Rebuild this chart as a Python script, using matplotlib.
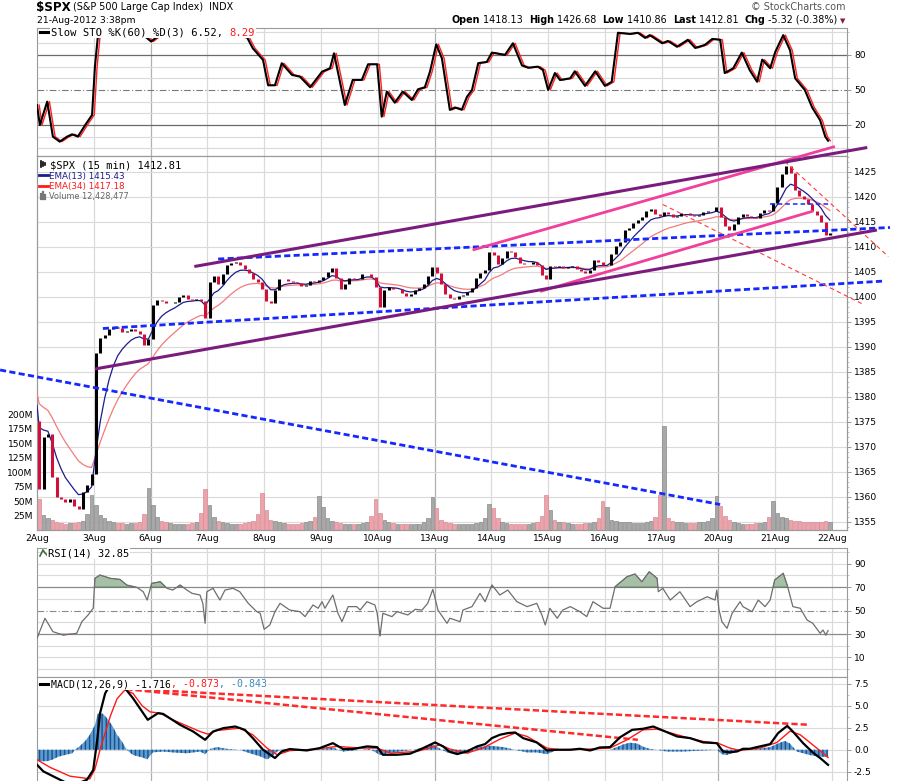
import numpy as np
import matplotlib
matplotlib.use("Agg")
import matplotlib.pyplot as plt
from matplotlib.lines import Line2D
from matplotlib.ticker import MultipleLocator

# ---------------- data ----------------
dates = ["2Aug", "3Aug", "6Aug", "7Aug", "8Aug", "9Aug", "10Aug", "13Aug",
         "14Aug", "15Aug", "16Aug", "17Aug", "20Aug", "21Aug", "22Aug"]
mondays = [2, 7, 12]

first_open = 1375.1
# 30-minute closes, 13 per trading day
closes = [
    [1361.5, 1372.0, 1372.5, 1364.0, 1360.0, 1359.6, 1359.0, 1359.5, 1358.2, 1357.6, 1361.0, 1362.4, 1364.6],
    [1388.8, 1391.8, 1392.4, 1393.6, 1394.0, 1393.8, 1393.0, 1393.2, 1393.6, 1393.2, 1392.6, 1390.4, 1391.6],
    [1398.4, 1399.4, 1399.2, 1398.8, 1398.8, 1399.0, 1400.0, 1400.4, 1399.6, 1399.4, 1399.6, 1399.2, 1395.8],
    [1403.0, 1404.2, 1402.6, 1404.6, 1406.4, 1406.8, 1406.9, 1406.4, 1405.5, 1404.8, 1403.6, 1403.0, 1401.6],
    [1399.2, 1398.8, 1401.4, 1403.6, 1403.6, 1403.2, 1403.0, 1402.8, 1402.2, 1402.4, 1403.2, 1403.0, 1403.4],
    [1404.0, 1405.0, 1405.8, 1403.8, 1401.6, 1402.6, 1403.8, 1403.6, 1403.6, 1404.6, 1404.6, 1404.0, 1402.0],
    [1398.0, 1401.4, 1402.0, 1401.6, 1401.6, 1400.8, 1400.2, 1400.6, 1401.4, 1401.8, 1402.6, 1404.2, 1406.0],
    [1404.8, 1402.6, 1400.6, 1399.8, 1399.6, 1400.2, 1400.4, 1401.0, 1401.8, 1403.8, 1404.8, 1405.4, 1409.0],
    [1408.4, 1406.6, 1407.8, 1409.2, 1409.0, 1408.0, 1406.8, 1406.6, 1406.6, 1407.0, 1406.4, 1404.4, 1403.6],
    [1406.2, 1406.0, 1406.2, 1405.8, 1406.0, 1406.2, 1405.6, 1405.2, 1404.8, 1405.4, 1407.4, 1407.0, 1406.4],
    [1406.4, 1408.6, 1410.2, 1411.0, 1413.4, 1413.8, 1414.8, 1415.4, 1416.0, 1417.2, 1417.6, 1416.6, 1416.2],
    [1417.0, 1416.6, 1416.0, 1416.2, 1416.8, 1416.8, 1416.4, 1416.2, 1416.4, 1417.0, 1417.2, 1417.2, 1418.0],
    [1416.0, 1414.2, 1413.4, 1414.6, 1416.0, 1416.6, 1416.2, 1416.0, 1415.8, 1416.8, 1417.4, 1417.2, 1418.8],
    [1422.0, 1424.6, 1426.2, 1424.8, 1421.4, 1420.2, 1419.6, 1418.6, 1417.2, 1416.4, 1415.0, 1412.4, 1412.8],
]
# volume (millions), 13 per trading day
volumes = [
    [54, 26, 20, 17, 14, 12, 11, 12, 12, 13, 16, 28, 60],
    [43, 26, 20, 16, 14, 12, 12, 11, 12, 12, 14, 28, 73],
    [43, 22, 16, 14, 12, 11, 11, 11, 11, 12, 14, 30, 71],
    [43, 22, 16, 14, 12, 11, 11, 11, 12, 13, 15, 28, 64],
    [35, 18, 15, 13, 12, 11, 11, 11, 12, 13, 16, 22, 59],
    [40, 20, 15, 13, 12, 11, 11, 11, 11, 12, 14, 24, 54],
    [30, 18, 14, 12, 11, 10, 10, 10, 10, 11, 13, 20, 57],
    [38, 18, 14, 12, 11, 10, 10, 10, 11, 12, 13, 20, 45],
    [38, 20, 14, 12, 11, 10, 10, 10, 11, 12, 14, 25, 61],
    [35, 18, 14, 13, 12, 11, 11, 11, 12, 12, 14, 20, 50],
    [40, 18, 15, 14, 14, 13, 12, 12, 12, 13, 15, 22, 61],
    [180, 20, 16, 14, 13, 12, 12, 12, 13, 13, 15, 20, 59],
    [42, 24, 18, 14, 12, 11, 11, 11, 12, 12, 14, 22, 50],
    [30, 22, 20, 18, 16, 15, 14, 14, 13, 13, 14, 16, 13],
]
ema13_seed, ema34_seed = 1378.4, 1380.8

# Slow stochastic %K (time in trading days from 2 Aug open)
sto_t = [0.00, 0.05, 0.18, 0.28, 0.40, 0.53, 0.62, 0.72, 0.85, 0.97, 1.02, 1.07, 1.29, 1.64, 1.90,
         2.01, 2.10, 2.43, 2.87, 3.22, 3.57, 3.70, 3.80, 3.98, 4.07, 4.19, 4.31, 4.49, 4.63, 4.81,
         5.02, 5.16, 5.23, 5.42, 5.56, 5.72, 5.83, 5.99, 6.07, 6.16, 6.30, 6.44, 6.60, 6.71, 6.83,
         6.92, 7.03, 7.13, 7.27, 7.36, 7.48, 7.57, 7.66, 7.77, 7.92, 8.01, 8.24, 8.38, 8.54, 8.65,
         8.82, 8.91, 9.00, 9.12, 9.21, 9.39, 9.47, 9.65, 9.83, 10.00, 10.12, 10.23, 10.44, 10.58,
         10.71, 10.79, 11.01, 11.11, 11.27, 11.46, 11.59, 11.76, 11.89, 12.03, 12.11, 12.26, 12.41,
         12.55, 12.68, 12.77, 12.91, 13.00, 13.14, 13.26, 13.35, 13.52, 13.65, 13.79, 13.88, 13.93]
sto_k = [37, 20, 40, 10, 5.7, 10, 12, 10, 20, 28.6, 70, 95, 97, 98, 96,
         91.5, 95, 98, 97, 97, 96, 95, 85.7, 75.7, 54, 54, 72.9, 62.9, 61.4, 52.3,
         65.7, 68.6, 81.4, 37.1, 58.6, 58.6, 72, 72, 27.1, 48.6, 39.1, 48.6, 41.4, 50.6, 52.3,
         65.7, 89.1, 77.1, 32.9, 35, 33, 44, 50, 73, 74, 82, 80, 90, 71, 69,
         70, 67, 50, 64.5, 58.5, 60, 66, 53.5, 66, 53.5, 57, 99, 98, 99,
         94.6, 97, 90, 92, 87, 93, 86, 88.6, 93.7, 93, 64.5, 68.6, 82,
         67, 57, 76, 68.6, 82.6, 97, 84, 60, 50, 35, 24, 10, 6.5]
sto_d_lag = 1 / 26  # %D trails %K by about one 15-minute bar

rsi_t = [0.00, 0.14, 0.28, 0.46, 0.70, 0.79, 0.90, 0.99, 1.02, 1.11, 1.29, 1.46, 1.58, 1.76, 1.87,
         1.94, 2.02, 2.17, 2.29, 2.39, 2.52, 2.64, 2.73, 2.87, 2.92, 2.96, 2.99, 3.10, 3.22, 3.31,
         3.45, 3.57, 3.72, 3.87, 3.93, 4.00, 4.10, 4.19, 4.28, 4.45, 4.63, 4.72, 4.86, 4.95, 5.02,
         5.07, 5.21, 5.30, 5.37, 5.48, 5.63, 5.69, 5.81, 5.95, 5.99, 6.04, 6.09, 6.25, 6.34, 6.53,
         6.66, 6.78, 6.88, 6.97, 7.06, 7.22, 7.27, 7.45, 7.50, 7.66, 7.80, 7.89, 8.01, 8.15, 8.29,
         8.45, 8.63, 8.80, 8.89, 8.95, 9.03, 9.16, 9.26, 9.39, 9.56, 9.68, 9.79, 9.97, 10.09, 10.18,
         10.39, 10.53, 10.65, 10.78, 10.92, 10.94, 11.02, 11.15, 11.32, 11.50, 11.62, 11.80, 11.94,
         11.97, 12.01, 12.06, 12.15, 12.24, 12.38, 12.43, 12.59, 12.70, 12.82, 12.91, 12.99, 13.14,
         13.21, 13.31, 13.44, 13.56, 13.66, 13.79, 13.84, 13.89, 13.93]
rsi_v = [26.3, 43.4, 32, 29.1, 30.6, 40.5, 46.2, 51.9, 77.4, 80.2, 77.4, 76.5, 71.7, 69.7, 66,
         58.9, 73.1, 74.5, 68.9, 67.4, 71.7, 67.4, 64.6, 63.2, 56.1, 39.1, 66, 68.9, 58.9, 67.4,
         68.9, 66, 56.1, 49, 47.6, 34, 37.7, 49, 56.1, 50.4, 49, 44.8, 54.7, 51.9, 57.5,
         51.9, 63.2, 47.6, 40.5, 53.3, 53.3, 50.4, 57.5, 54.7, 47.6, 28.3, 47.6, 44.8, 49, 46.2,
         51, 50.4, 56.1, 68, 50.4, 39.1, 43.4, 40.5, 50.4, 53.3, 64.6, 57.5, 71.7, 63.2, 67.4,
         57.5, 53.3, 56.1, 46.2, 37.7, 51.9, 43.4, 50.4, 53.3, 49, 44.8, 57.5, 51.9, 51.9, 70.3,
         78.8, 81.1, 74.5, 83, 77.4, 66, 68.9, 58.9, 66, 53.3, 57.5, 61.7, 58.9,
         67.4, 50.4, 40.5, 34.8, 47.6, 57.5, 53.3, 49, 58.9, 53.3, 58.9, 76, 81.7,
         71.7, 53.3, 51.9, 41.9, 39.1, 30.6, 33.4, 29.1, 32.85]

macd_t = [0.00, 0.11, 0.28, 0.53, 0.70, 0.88, 0.99, 1.06, 1.11, 1.20, 1.29, 1.41, 1.55, 1.69, 1.95,
          2.13, 2.22, 2.52, 2.75, 2.96, 3.10, 3.28, 3.49, 3.66, 3.80, 3.98, 4.19, 4.31, 4.45, 4.75,
          4.98, 5.21, 5.39, 5.56, 5.81, 5.99, 6.09, 6.34, 6.57, 6.80, 7.01, 7.15, 7.27, 7.40, 7.57,
          7.75, 7.89, 8.01, 8.15, 8.29, 8.42, 8.56, 8.80, 8.98, 9.16, 9.39, 9.56, 9.74, 9.91, 10.09,
          10.27, 10.48, 10.67, 10.85, 11.02, 11.27, 11.50, 11.73, 11.97, 12.08, 12.20, 12.33, 12.43,
          12.55, 12.73, 12.91, 13.05, 13.21, 13.31, 13.49, 13.66, 13.79, 13.93]
macd_v = [-1.7, -2.45, -3.0, -3.8, -3.9, -3.4, -2.3, 1.1, 4.15, 6.4, 7.4, 7.7, 6.98, 5.85, 3.4,
          4.15, 4.07, 2.83, 2.07, 1.13, 2.07, 2.45, 2.64, 2.26, 1.32, 0.0, -0.94, -0.19, 0.08, -0.08,
          0.19, 0.75, 0.08, 0.08, 0.38, 0.3, -0.57, -0.57, -0.45, 0.19, 0.83, 0.38, -0.25, -0.49, -0.19,
          0.38, 0.64, 1.32, 1.7, 1.89, 1.96, 1.32, 0.83, -0.08, 0.0, 0.0, 0.11, -0.08, 0.26, 0.3,
          1.43, 2.26, 2.38, 2.64, 2.19, 1.51, 1.32, 0.83, 0.75, -0.19, -0.3, -0.19, 0.11,
          0.11, 0.38, 0.64, 1.89, 2.71, 2.07, 0.75, -0.3, -0.94, -1.716]
signal_t = [0.00, 0.23, 0.58, 0.93, 1.02, 1.11, 1.29, 1.41, 1.55, 1.69, 1.85, 1.99, 2.17, 2.39,
            2.87, 3.01, 3.17, 3.57, 3.80, 4.05, 4.23, 4.45, 4.93, 5.28, 5.69, 5.99, 6.22, 6.69,
            7.10, 7.27, 7.57, 7.85, 8.15, 8.42, 8.63, 8.98, 9.21, 9.74, 10.09, 10.39, 10.67, 10.92,
            11.38, 11.73, 11.99, 12.20, 12.38, 12.73, 13.03, 13.26, 13.44, 13.66, 13.93]
signal_v = [-1.13, -2.0, -3.0, -3.3, -2.2, 0.0, 3.8, 5.8, 6.8, 6.4, 5.0, 4.3, 4.15, 3.4,
            2.07, 1.77, 2.19, 2.45, 1.7, 0.19, -0.57, -0.1, 0.08, 0.38, 0.19, 0.19, -0.38, -0.19,
            0.56, 0.08, -0.38, 0.19, 1.2, 1.89, 1.51, 0.19, 0.0, 0.08, 0.19, 1.13, 2.26, 2.34,
            1.51, 0.94, 0.75, 0.19, -0.08, 0.19, 0.83, 2.11, 1.7, 0.56, -0.873]
hist_t = [0.00, 0.18, 0.28, 0.37, 0.49, 0.62, 0.67, 0.76, 0.85, 0.93, 1.02, 1.07, 1.16, 1.23, 1.32,
          1.41, 1.50, 1.58, 1.69, 1.87, 1.94, 2.04, 2.22, 2.39, 2.64, 2.87, 2.96, 3.05, 3.17, 3.35,
          3.57, 3.75, 3.93, 4.05, 4.14, 4.23, 4.33, 4.63, 4.98, 5.21, 5.39, 5.69, 5.86, 6.04, 6.16,
          6.39, 6.62, 6.87, 6.97, 7.10, 7.22, 7.45, 7.61, 7.75, 7.98, 8.21, 8.45, 8.63, 8.80, 8.98,
          9.16, 9.61, 10.09, 10.21, 10.32, 10.44, 10.57, 10.67, 10.79, 10.92, 11.09, 11.38, 11.67,
          11.97, 12.06, 12.15, 12.26, 12.43, 12.68, 12.91, 13.08, 13.17, 13.26, 13.38, 13.49, 13.61,
          13.73, 13.84, 13.93]
hist_v = [-1.3, -1.3, -1.1, -0.8, -0.6, -0.4, 0.0, 0.45, 1.0, 1.7, 2.8, 4.1, 4.1, 3.6, 2.8,
          1.7, 0.9, 0.0, -0.6, -0.9, -1.1, -0.3, -0.2, -0.3, -0.4, -0.2, -0.5, 0.1, 0.3, 0.1,
          0.0, -0.4, -0.75, -1.1, -0.75, -0.2, 0.1, 0.0, 0.05, 0.25, -0.2, 0.0, 0.1, -0.6, -0.4,
          -0.2, 0.0, 0.3, 0.6, 0.1, -0.3, -0.4, -0.4, 0.3, 0.45, 0.3, -0.05, -0.3, -0.3, -0.5,
          0.0, 0.0, 0.0, 0.3, 0.6, 0.8, 0.7, 0.35, 0.1, 0.0, -0.2, -0.2, -0.1,
          0.0, -0.5, -0.6, -0.3, 0.05, 0.1, 0.3, 0.8, 1.0, 0.7, -0.2, -0.4, -0.6,
          -0.75, -0.8, -0.843]

# hand-drawn trend lines: ((day, price), (day, price))
purple_lines = [((2.77, 1406.1), (14.62, 1429.9)), ((1.02, 1385.6), (14.79, 1413.4))]
pink_lines = [((7.67, 1409.4), (14.05, 1430.1)), ((8.86, 1401.1), (13.67, 1417.2))]
blue_lines = [((3.19, 1407.6), (15.02, 1413.9)), ((1.16, 1393.7), (14.93, 1403.2)),
              ((-0.65, 1385.4), (12.03, 1358.5))]
blue_short = [((12.91, 1418.6), (13.99, 1418.6))]
red_thin = [((13.17, 1427.1), (14.99, 1408.1)), ((11.02, 1418.5), (14.52, 1398.7))]
macd_red_lines = [((1.41, 6.98), (13.61, 2.83)), ((1.41, 6.98), (10.58, 1.13))]

# ---------------- figure ----------------
W, H = 903, 781
fig = plt.figure(figsize=(W / 100, H / 100), dpi=100)
fig.patch.set_facecolor("white")
FONT = "DejaVu Sans"
MONO = "DejaVu Sans Mono"
plt.rcParams["font.family"] = FONT

L, R = 37, 847
XLIM = (0, (R - L) / 56.79)


def rect(top, bottom):
    return [L / W, 1 - bottom / H, (R - L) / W, (bottom - top) / H]


ax_sto = fig.add_axes(rect(28, 156))
ax_vol = fig.add_axes(rect(156, 530))
ax_px = fig.add_axes(rect(156, 530))
ax_rsi = fig.add_axes(rect(548, 677))
ax_macd = fig.add_axes(rect(677, 790))
ax_px.patch.set_visible(False)

GRID_L = "#dadada"
GRID_D = "#b0b0b0"
SPINE = "#9a9a9a"
TICK_FS = 6.6

for ax in (ax_sto, ax_vol, ax_px, ax_rsi, ax_macd):
    ax.set_xlim(*XLIM)
    for s in ax.spines.values():
        s.set_color(SPINE)
        s.set_linewidth(0.8)
    ax.tick_params(axis="x", length=0, labelbottom=False)

# vertical day grid
for ax in (ax_sto, ax_vol, ax_rsi, ax_macd):
    for d in range(1, len(dates)):
        ax.axvline(d, color=GRID_D if d in mondays else GRID_L, lw=0.9, zorder=0)


def right_axis(ax, ticks, labels, minor):
    ax.yaxis.tick_right()
    ax.set_yticks(ticks)
    ax.set_yticklabels(labels)
    ax.yaxis.set_minor_locator(MultipleLocator(minor))
    ax.tick_params(axis="y", which="major", direction="out", length=3, width=0.6,
                   color="#888888", labelsize=TICK_FS, pad=2)
    ax.tick_params(axis="y", which="minor", direction="out", length=1.5, width=0.5,
                   color="#aaaaaa")


# ---------------- STO panel ----------------
ax_sto.set_ylim(-6.6, 103.1)
for v in range(0, 101, 10):
    if v in (20, 80):
        ax_sto.axhline(v, color="#6a6a6a", lw=0.9, zorder=1)
    elif v == 50:
        ax_sto.axhline(v, color="#7a7a7a", lw=0.8, ls=(0, (6, 2, 1, 2)), zorder=1)
    else:
        ax_sto.axhline(v, color=GRID_L, lw=0.8, zorder=0)
st = np.array(sto_t)
sk = np.array(sto_k)
ax_sto.plot(st + sto_d_lag, sk, color="#ff2020", lw=1.0, zorder=3)
ax_sto.plot(st, sk, color="black", lw=1.5, zorder=4)
right_axis(ax_sto, [20, 50, 80], ["20", "50", "80"], 10)

# ---------------- price / volume panel ----------------
ax_px.set_ylim(1353.4, 1428.2)
ax_vol.set_ylim(0, 648)
for p in range(1355, 1430, 5):
    ax_vol.plot(XLIM, [p, p], transform=ax_px.transData, color=GRID_L, lw=0.8, zorder=0)

c_all = np.concatenate([np.asarray(c, float) for c in closes])
v_all = np.concatenate([np.asarray(v, float) for v in volumes])
t_bar = np.array([d + (i + 0.5) / len(c) for d, c in enumerate(closes) for i in range(len(c))])
o_all = np.r_[first_open, c_all[:-1]]
up = c_all >= o_all

vol_col = np.where(up, "#a8a8a8", "#eda3ab")
vol_edge = np.where(up, "#8a8a8a", "#d98a94")
ax_vol.bar(t_bar, v_all, width=0.8 / 13, color=vol_col, edgecolor=vol_edge, linewidth=0.5, zorder=2)
ax_vol.set_yticks([25, 50, 75, 100, 125, 150, 175, 200])
ax_vol.set_yticklabels(["25M", "50M", "75M", "100M", "125M", "150M", "175M", "200M"])
ax_vol.tick_params(axis="y", length=0, labelsize=TICK_FS, pad=3)


def ema(values, span, seed):
    a = 2.0 / (span + 1.0)
    out, e = [], seed
    for v in values:
        e = e + a * (v - e)
        out.append(e)
    return np.array(out)


e13 = ema(c_all, 13 / 2, ema13_seed)
e34 = ema(c_all, 34 / 2, ema34_seed)
ax_px.plot(np.r_[0, t_bar], np.r_[ema34_seed, e34], color="#f47a7a", lw=0.9, zorder=3)
ax_px.plot(np.r_[0, t_bar], np.r_[ema13_seed, e13], color="#1c1c8c", lw=0.9, zorder=3)

ax_px.vlines(t_bar[up], o_all[up], c_all[up], color="black", lw=2.2, zorder=4)
ax_px.vlines(t_bar[~up], o_all[~up], c_all[~up], color="#d0103a", lw=2.2, zorder=4)

right_axis(ax_px, list(range(1355, 1426, 5)), [str(p) for p in range(1355, 1426, 5)], 1)
ax_px.set_xticks(range(len(dates)))
ax_px.set_xticklabels(dates)
ax_px.tick_params(axis="x", length=0, labelbottom=True, labelsize=TICK_FS, pad=3)
ax_vol.tick_params(axis="x", labelbottom=False)


def seg(ax, lines, **kw):
    for (x0, y0), (x1, y1) in lines:
        ax.plot([x0, x1], [y0, y1], clip_on=False, solid_capstyle="butt", **kw)


seg(ax_px, blue_lines, color="#1428ff", lw=2.0, ls=(0, (2.2, 1.2)), zorder=5)
seg(ax_px, blue_short, color="#1428ff", lw=1.1, ls=(0, (3, 2)), zorder=5)
seg(ax_px, red_thin, color="#ff3a3a", lw=0.8, ls=(0, (4, 3)), zorder=5)
seg(ax_px, pink_lines, color="#f0409c", lw=2.0, zorder=6)
seg(ax_px, purple_lines, color="#7a1c7e", lw=2.2, zorder=6)

# ---------------- RSI panel ----------------
ax_rsi.set_ylim(-6.6, 103.2)
for v in range(0, 101, 10):
    if v in (30, 70):
        ax_rsi.axhline(v, color="#8a8a8a", lw=0.9, zorder=1)
    elif v == 50:
        ax_rsi.axhline(v, color="#8a8a8a", lw=0.8, ls=(0, (6, 2, 1, 2)), zorder=1)
    else:
        ax_rsi.axhline(v, color=GRID_L, lw=0.8, zorder=0)
rt = np.array(rsi_t)
rv = np.array(rsi_v)
ax_rsi.fill_between(rt, 70, rv, where=rv > 70, interpolate=True, color="#a7bea7",
                    edgecolor="#3f6f3f", lw=0.5, zorder=2)
ax_rsi.fill_between(rt, 30, rv, where=rv < 30, interpolate=True, color="#e8b0b8",
                    edgecolor="#b05060", lw=0.5, zorder=2)
ax_rsi.plot(rt, rv, color="#6e6e6e", lw=0.9, zorder=3)
right_axis(ax_rsi, [10, 30, 50, 70, 90], ["10", "30", "50", "70", "90"], 10)

# ---------------- MACD panel ----------------
ax_macd.set_ylim(-4.57, 8.26)
for v in (-2.5, 0.0, 2.5, 5.0, 7.5):
    ax_macd.axhline(v, color=GRID_L, lw=0.8, zorder=0)
ax_macd.fill_between(hist_t, 0, hist_v, color="#5a9bd0", edgecolor="#1f4f8f",
                     hatch="||||", lw=0.0, zorder=2)
seg(ax_macd, macd_red_lines, color="#ff2a2a", lw=1.8, ls=(0, (2.5, 1.2)), zorder=3)
ax_macd.plot(signal_t, signal_v, color="#ff1a1a", lw=1.0, zorder=4)
ax_macd.plot(macd_t, macd_v, color="black", lw=1.6, zorder=5)
right_axis(ax_macd, [-2.5, 0.0, 2.5, 5.0, 7.5], ["-2.5", "0.0", "2.5", "5.0", "7.5"], 1.25)

# ---------------- texts ----------------
fig.canvas.draw()
renderer = fig.canvas.get_renderer()


def fxy(x, y):
    return x / W, 1 - y / H


def seq_text(x, y, parts, size, family=FONT, bbox=None):
    for s, weight, color in parts:
        t = fig.text(*fxy(x, y), s, fontsize=size, fontweight=weight, color=color,
                     family=family, va="baseline", ha="left", bbox=bbox)
        bb = t.get_window_extent(renderer=renderer)
        x = bb.x1
    return x


seq_text(36, 11.5, [("\\$SPX", "bold", "black")], 8.6)
seq_text(73, 10.5, [("(S&P 500 Large Cap Index)", "normal", "black")], 6.9)
seq_text(209, 10.5, [("INDX", "normal", "black")], 6.9)
seq_text(37, 22.8, [("21-Aug-2012 3:38pm", "normal", "black")], 6.7)
fig.text(*fxy(846, 10), "\u00a9 StockCharts.com", fontsize=6.9, color="#555555",
         ha="right", va="baseline")
hdr = [("Open", "bold", "black"), (" 1418.13  ", "normal", "black"),
       ("High", "bold", "black"), (" 1426.68  ", "normal", "black"),
       ("Low", "bold", "black"), (" 1410.86  ", "normal", "black"),
       ("Last", "bold", "black"), (" 1412.81  ", "normal", "black"),
       ("Chg", "bold", "black"), (" -5.32 (-0.38%)", "normal", "black")]
seq_text(452, 22.8, hdr, 6.9)
fig.text(*fxy(843, 21), "\u25bc", fontsize=5, color="#8b1a3a", ha="center", va="center")

wb = dict(facecolor="white", edgecolor="none", pad=0.6)
fig.add_artist(Line2D([40 / W, 48 / W], [1 - 32 / H] * 2, color="black", lw=2.2))
seq_text(51, 35.5, [("Slow STO %K(60) %D(3) 6.52, ", "normal", "black"),
                    ("8.29", "normal", "#ff1a1a")], 7.6, family=MONO, bbox=wb)

# price legend
for k, xx in enumerate([40.5, 43, 45.5]):
    fig.add_artist(Line2D([xx / W] * 2, [1 - (161 + k) / H, 1 - (167 - k) / H],
                          color="black", lw=1.2))
seq_text(50, 168, [("\\$SPX (15 min) 1412.81", "normal", "black")], 7.5, family=MONO)
fig.add_artist(Line2D([39 / W, 48 / W], [1 - 174.5 / H] * 2, color="#1c1c8c", lw=2))
seq_text(49, 178.5, [("EMA(13) 1415.43", "normal", "#1c1c8c")], 6.3)
fig.add_artist(Line2D([39 / W, 48 / W], [1 - 185.5 / H] * 2, color="#ff1a1a", lw=2))
seq_text(49, 189.5, [("EMA(34) 1417.18", "normal", "#ff1a1a")], 6.3)
for k, (xx, hh) in enumerate([(40.5, 5), (43, 7), (45.5, 4)]):
    fig.add_artist(Line2D([xx / W] * 2, [1 - 199 / H, 1 - (199 - hh) / H],
                          color="#777777", lw=1.6))
seq_text(49, 199.5, [("Volume 12,428,477", "normal", "#666666")], 5.9)

# RSI legend
fig.add_artist(Line2D([40 / W, 43 / W, 45 / W, 48 / W],
                      [1 - 556 / H, 1 - 550 / H, 1 - 553 / H, 1 - 556 / H],
                      color="#3f6f3f", lw=1.2))
seq_text(48, 556.5, [("RSI(14) 32.85", "normal", "black")], 7.5, family=MONO, bbox=wb)

# MACD legend
fig.add_artist(Line2D([40 / W, 48 / W], [1 - 684 / H] * 2, color="black", lw=2.2))
seq_text(51, 687.5, [("MACD(12,26,9) -1.716", "normal", "black"),
                     (", -0.873", "normal", "#ff1a1a"),
                     (", -0.843", "normal", "#3a8ac0")], 7.1, family=MONO, bbox=wb)

fig.savefig("out.png", dpi=100, facecolor="white")
